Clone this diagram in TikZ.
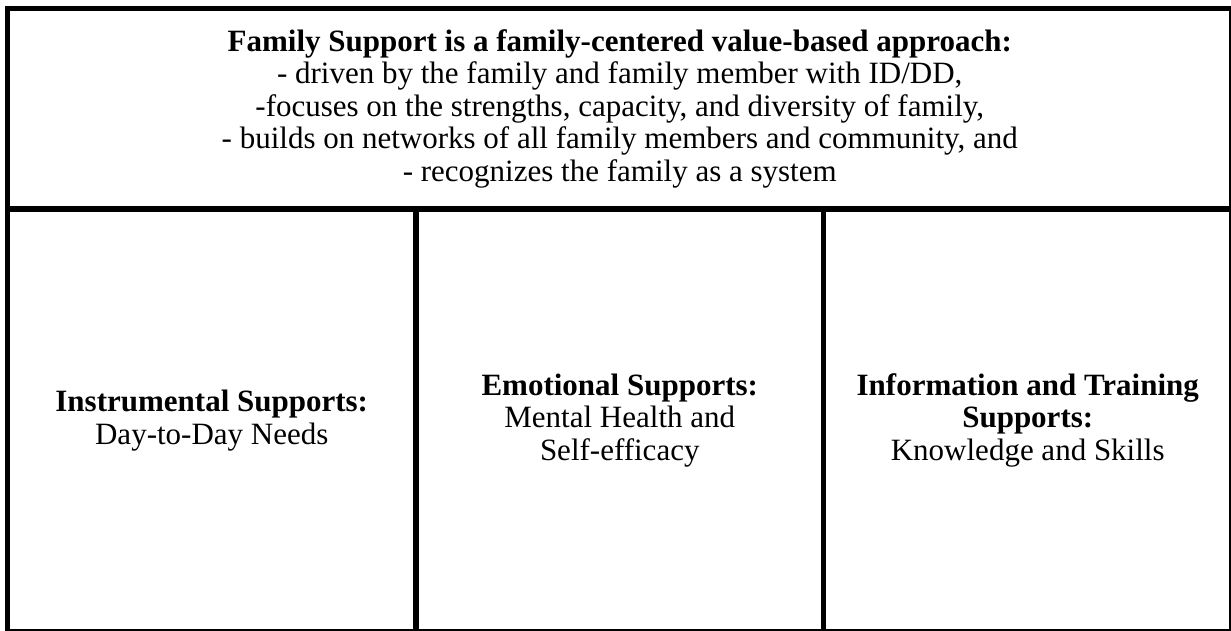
\documentclass[tikz,border=0pt]{standalone}
\usepackage{fontspec}
\setmainfont{Liberation Serif}
\usepackage{tikz}
\usetikzlibrary{positioning}

\tikzset{
	panel/.style={draw, line width=5.5pt, outer sep=0pt, inner sep=0pt, align=center,
		font=\fontsize{31}{32.5}\selectfont},
	toppanel/.style={panel, minimum width=1224.5pt, minimum height=200.5pt},
	colpanel/.style={panel, minimum width=408pt, minimum height=422.75pt}
}

\begin{document}
\begin{tikzpicture}[x=1pt, y=-1pt]
			%%%%% START %%%%%
			
			\useasboundingbox (0, 0) rectangle (1231, 631);
			
			\node[toppanel, anchor=north west] (approach) at (7.5, 8.5)
				{\textbf{Family Support is a family-centered value-based approach:}\\
				- driven by the family and family member with ID/DD,\\
				-focuses on the strengths, capacity, and diversity of family,\\
				- builds on networks of all family members and community, and\\
				- recognizes the family as a system};
			
			\node[colpanel, anchor=north west, minimum width=408.5pt] (instrumental) at (approach.south west)
				{\textbf{Instrumental Supports:}\\ Day-to-Day Needs};
			\node[colpanel, anchor=north west, minimum width=407.5pt] (emotional) at (instrumental.north east)
				{\textbf{Emotional Supports:}\\ Mental Health and\\ Self-efficacy};
			\node[colpanel, anchor=north west, minimum width=408.5pt] (information) at (emotional.north east)
				{\textbf{Information and Training}\\ \textbf{Supports:}\\ Knowledge and Skills};
			
			%%%%% END %%%%%
		\end{tikzpicture}
\end{document}
